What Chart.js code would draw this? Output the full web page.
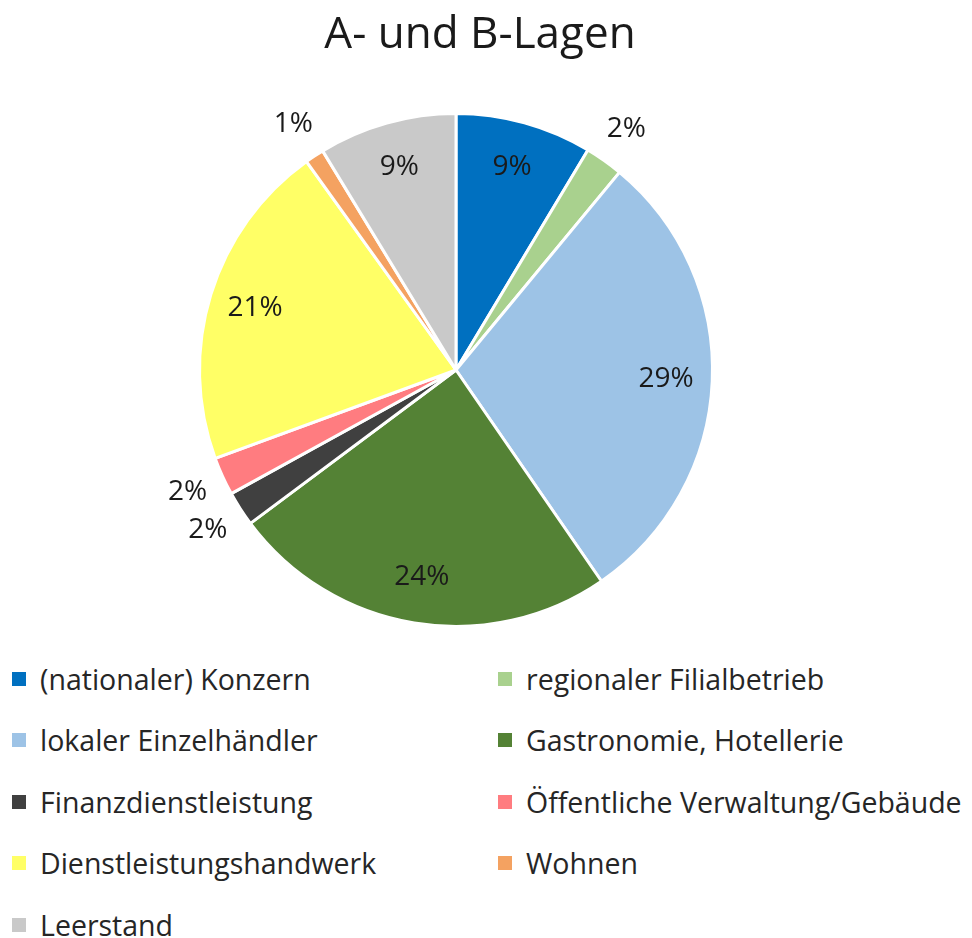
<!DOCTYPE html>
<html>
<head>
<meta charset="utf-8">
<script src="https://cdn.jsdelivr.net/npm/chart.js@4/dist/chart.umd.min.js"></script>
<style>
  body { margin: 0; background: #fff; width: 972px; height: 938px; overflow: hidden; }
  #title {
    position: absolute; top: 0; left: 0; width: 960px; text-align: center;
    font-family: "Open Sans", sans-serif; font-size: 44px; line-height: 62px; color: #1a1a1a;
  }
  #wrap { position: relative; width: 972px; height: 640px; }
  #legend {
    position: absolute; top: 648px; left: 0; width: 972px;
    display: grid; grid-template-columns: 486px 486px; grid-auto-rows: 61.5px;
    font-family: "Open Sans", sans-serif; font-size: 28.5px; color: #262626;
  }
  .item { display: flex; align-items: center; height: 61.5px; padding-left: 12px; }
  .item .box { width: 14px; height: 14px; margin-right: 14px; flex: none; }
</style>
</head>
<body>
<div id="wrap"><canvas id="pie"></canvas></div>
<div id="title"></div>
<div id="legend"></div>
<script>
// Data
const chartTitle = 'A- und B-Lagen';
const categories = [
    '(nationaler) Konzern',
    'regionaler Filialbetrieb',
    'lokaler Einzelhändler',
    'Gastronomie, Hotellerie',
    'Finanzdienstleistung',
    'Öffentliche Verwaltung/Gebäude',
    'Dienstleistungshandwerk',
    'Wohnen',
    'Leerstand'
];
const shares = [8.6, 2.4, 29.4, 24.4, 2.2, 2.4, 20.7, 1.2, 8.7];
const colors = ['#0070C0', '#A9D18E', '#9DC3E6', '#548235', '#404040', '#FF7C80', '#FFFF66', '#F4A261', '#C9C9C9'];

document.getElementById('title').textContent = chartTitle;

// Labels on / around the slices (small slices get their label outside)
const sliceLabels = {
    id: 'sliceLabels',
    afterDatasetsDraw(chart) {
        const ctx = chart.ctx;
        const meta = chart.getDatasetMeta(0);
        ctx.save();
        ctx.font = '28px "Open Sans", sans-serif';
        ctx.fillStyle = '#1a1a1a';
        ctx.textAlign = 'center';
        ctx.textBaseline = 'middle';
        meta.data.forEach((arc, i) => {
            const p = arc.getProps(['x', 'y', 'startAngle', 'endAngle', 'outerRadius']);
            const mid = (p.startAngle + p.endAngle) / 2;
            const r = shares[i] < 5 ? p.outerRadius * 1.15 : p.outerRadius * 0.82;
            const x = p.x + Math.cos(mid) * r;
            const y = p.y + Math.sin(mid) * r;
            ctx.fillText(Math.round(shares[i]) + '%', x, y);
        });
        ctx.restore();
    }
};

const chart = new Chart(document.getElementById('pie'), {
    type: 'pie',
    data: {
        labels: categories,
        datasets: [{
            data: shares,
            backgroundColor: colors,
            borderColor: '#ffffff',
            borderWidth: 3,
            hoverOffset: 0
        }]
    },
    options: {
        responsive: true,
        maintainAspectRatio: false,
        animation: false,
        layout: { padding: { top: 112, bottom: 12, left: 197, right: 257 } },
        plugins: {
            legend: { display: false }, // HTML legend below
            tooltip: { enabled: false },
            title: { display: false }
        }
    },
    plugins: [sliceLabels]
});

// HTML legend, two columns
const legend = document.getElementById('legend');
categories.forEach((name, i) => {
    const item = document.createElement('div');
    item.className = 'item';
    item.innerHTML = `<span class="box" style="background:${colors[i]}"></span><span>${name}</span>`;
    legend.appendChild(item);
});
</script>
</body>
</html>
